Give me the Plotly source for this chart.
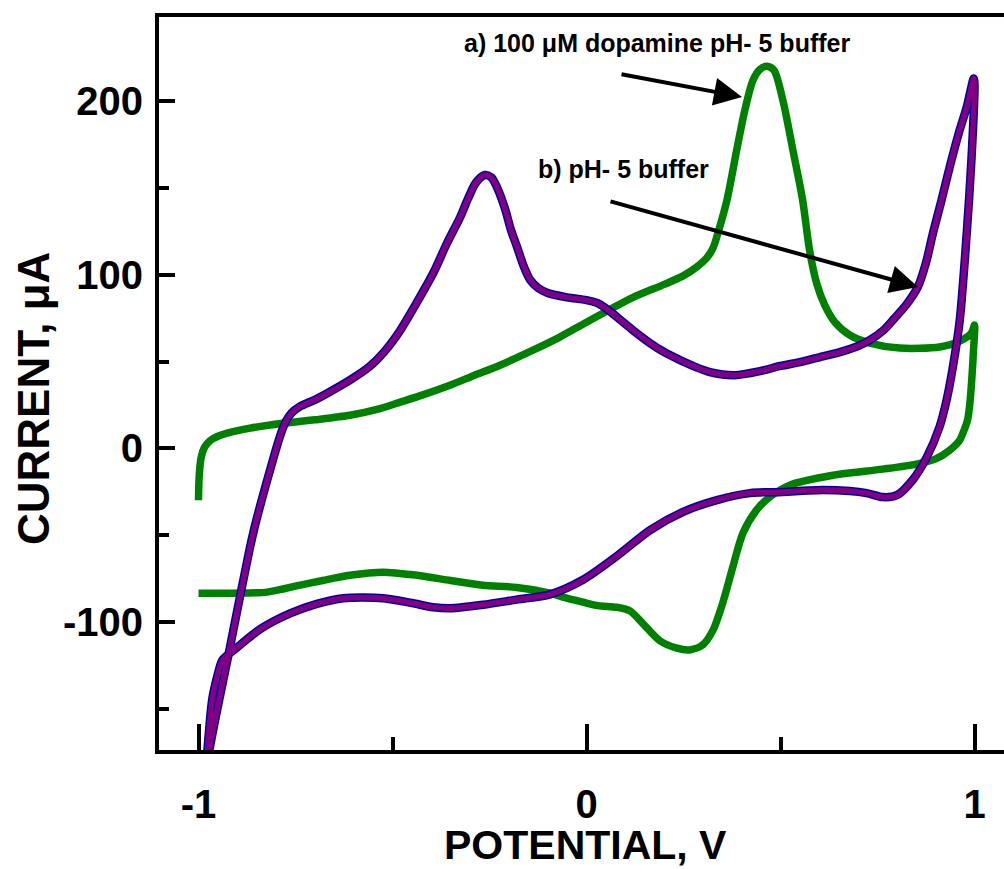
import plotly.graph_objects as go

# ---- data (potential V, current uA) ----
dopamine_potential = [
    -1.0, -0.998, -0.993, -0.985, -0.97, -0.95, -0.926, -0.867, -0.782, -0.7, -0.61, -0.54,
    -0.48, -0.42, -0.352, -0.29, -0.223, -0.138, -0.07, 0.0, 0.06, 0.12, 0.202, 0.25,
    0.284, 0.31, 0.326, 0.341, 0.362, 0.387, 0.408, 0.429, 0.447, 0.465, 0.483, 0.506,
    0.532, 0.557, 0.575, 0.593, 0.614, 0.64, 0.678, 0.73, 0.807, 0.91, 0.962, 0.992, 1.0,
    0.997, 0.993, 0.988, 0.982, 0.97, 0.962, 0.936, 0.9, 0.851, 0.764, 0.635, 0.524, 0.472,
    0.438, 0.403, 0.377, 0.351, 0.326, 0.3, 0.266, 0.233, 0.189, 0.146, 0.112, 0.078,
    0.03, -0.009, -0.061, -0.094, -0.18, -0.267, -0.35, -0.437, -0.524, -0.61,
    -0.68, -0.738, -0.823, -0.91, -1.0,
]
dopamine_current = [
    -29.8, -15.0, -5.0, 0.5, 4.5, 7.0, 8.8, 11.7, 14.5, 16.5, 19.1, 22.5,
    26.7, 31.0, 36.4, 42.0, 47.9, 56.6, 64.0, 72.7, 80.0, 87.0, 94.6, 99.5,
    104.5, 109.7, 115.4, 125.8, 143.0, 171.7, 194.7, 212.0, 218.3, 220.0, 217.8, 200.5,
    171.7, 143.0, 114.0, 95.2, 82.5, 72.7, 65.3, 60.7, 57.8, 58.4, 61.8, 66.4, 71.0,
    55.0, 40.0, 26.0, 16.3, 8.8, 4.8, -1.0, -6.0, -9.0, -11.9, -15.4, -21.1, -28.0,
    -35.5, -48.8, -68.3, -89.0, -104.6, -113.0, -116.0, -115.0, -110.7, -101.0, -93.5, -91.4,
    -90.5, -88.5, -85.6, -83.3, -80.0, -78.7, -76.0, -73.0, -71.2, -73.0,
    -76.0, -78.7, -82.7, -83.3, -83.3,
]

buffer_potential = [
    -0.985, -0.972, -0.923, -0.869, -0.851, -0.79, -0.775, -0.76, -0.74, -0.7, -0.668,
    -0.61, -0.56, -0.52, -0.48, -0.44, -0.395, -0.36, -0.326, -0.305, -0.285, -0.262,
    -0.245, -0.228, -0.21, -0.195, -0.179, -0.162, -0.145, -0.125, -0.1, -0.05, 0.0, 0.03,
    0.06, 0.09, 0.12, 0.164, 0.2, 0.24, 0.28, 0.318, 0.382, 0.447, 0.5, 0.55, 0.6, 0.653,
    0.7, 0.73, 0.765, 0.794, 0.825, 0.854, 0.875, 0.893, 0.915, 0.936, 0.96, 0.98, 0.998,
    1.0, 0.992, 0.98, 0.962, 0.945, 0.928, 0.91, 0.877, 0.841, 0.8, 0.764, 0.722, 0.678,
    0.593, 0.506, 0.421, 0.336, 0.249, 0.164, 0.078, -0.009, -0.094, -0.18, -0.267,
    -0.352, -0.395, -0.45, -0.524, -0.627, -0.695, -0.764, -0.841, -0.892, -0.92, -0.939,
    -0.952, -0.965, -0.985,
]
buffer_current = [
    -200.0, -174.0, -119.0, -58.7, -41.4, 7.0, 15.5, 20.5, 24.0, 28.0, 31.8,
    39.3, 47.0, 56.0, 68.0, 83.0, 101.0, 118.0, 133.0, 144.0, 153.0, 157.4,
    156.0, 149.0, 138.0, 126.0, 116.0, 105.0, 97.0, 92.5, 89.5, 87.0, 85.4, 83.5,
    79.0, 73.5, 68.0, 60.6, 55.5, 51.0, 47.0, 44.0, 42.2, 44.5, 47.5, 49.7, 52.5, 55.5,
    59.0, 62.4, 68.0, 75.0, 83.0, 93.0, 107.0, 124.0, 143.0, 162.0, 182.0, 196.5, 213.0,
    209.0, 166.0, 124.0, 74.0, 48.0, 27.8, 12.5, -5.0, -18.0, -26.9, -28.0, -25.7, -24.5,
    -24.0, -25.0, -25.7, -29.7, -36.5, -47.0, -62.0, -75.6, -84.0, -87.0, -90.0,
    -92.0, -91.4, -89.0, -86.2, -86.2, -89.5, -95.0, -104.0, -113.0, -118.0, -122.0,
    -131.5, -145.0, -200.0,
]

x_tick_vals = [-1, 0, 1]
x_tick_text = ["-1", "0", "1"]
y_tick_vals = [-100, 0, 100, 200]
y_tick_text = ["-100", "0", "100", "200"]

label_a = "a) 100 μM dopamine pH- 5 buffer"
label_b = "b) pH- 5 buffer"
x_title = "POTENTIAL, V"
y_title = "CURRENT, μA"

# ---- layout geometry ----
W, H = 1004, 869
ML, MR, MT, MB = 159, 0, 17, 119
PW, PH = W - ML - MR, H - MT - MB


def px(xp):
    return (xp - ML) / PW


def py(yp):
    return (H - MB - yp) / PH


FONT = "Liberation Sans, Arial, sans-serif"
SMOOTH = 0.8

fig = go.Figure()
fig.add_trace(go.Scatter(x=dopamine_potential, y=dopamine_current, mode="lines",
                         line=dict(color="#008000", width=7.5, shape="spline", smoothing=SMOOTH),
                         hoverinfo="skip", showlegend=False))
fig.add_trace(go.Scatter(x=buffer_potential, y=buffer_current, mode="lines",
                         line=dict(color="#0000A8", width=8.5, shape="spline", smoothing=SMOOTH),
                         hoverinfo="skip", showlegend=False))
fig.add_trace(go.Scatter(x=buffer_potential, y=buffer_current, mode="lines",
                         line=dict(color="#800080", width=5.5, shape="spline", smoothing=SMOOTH),
                         hoverinfo="skip", showlegend=False))

axis_common = dict(showgrid=False, zeroline=False, showline=True, linecolor="black",
                   linewidth=4, ticks="inside", tickcolor="black",
                   tickfont=dict(family=FONT, size=40, color="black", weight="bold"))

fig.update_xaxes(range=[-1.1018, 1.076], tickvals=x_tick_vals, ticktext=x_tick_text,
                 ticklen=26, tickwidth=3.5, mirror=True, ticklabelstandoff=16,
                 minor=dict(ticks="inside", dtick=0.5, tick0=0, ticklen=13, tickwidth=3.5,
                            tickcolor="black"),
                 **axis_common)
fig.update_yaxes(range=[-173.6, 248.4], tickvals=y_tick_vals, ticktext=y_tick_text,
                 ticklen=16, tickwidth=4, mirror=False, ticklabelstandoff=4,
                 minor=dict(ticks="inside", dtick=50, tick0=0, ticklen=10, tickwidth=4,
                            tickcolor="black"),
                 **axis_common)

ann_font = dict(family=FONT, size=25, color="black", weight="bold")
annotations = [
    dict(text=label_a, x=px(657), y=py(43), xref="paper", yref="paper",
         showarrow=False, font=ann_font, xanchor="center", yanchor="middle"),
    dict(text=label_b, x=px(623), y=py(169), xref="paper", yref="paper",
         showarrow=False, font=ann_font, xanchor="center", yanchor="middle"),
    dict(text="", x=px(742), y=py(97), xref="paper", yref="paper",
         ax=620 - 742, ay=74 - 97, showarrow=True, arrowhead=2, arrowsize=1.4,
         arrowwidth=4, arrowcolor="black", standoff=0, startstandoff=0),
    dict(text="", x=px(918), y=py(287), xref="paper", yref="paper",
         ax=609 - 918, ay=201 - 287, showarrow=True, arrowhead=2, arrowsize=1.4,
         arrowwidth=4, arrowcolor="black", standoff=0, startstandoff=0),
    dict(text=x_title, x=px(585), y=py(845), xref="paper", yref="paper",
         showarrow=False, font=dict(family=FONT, size=41, color="black", weight="bold"),
         xanchor="center", yanchor="middle"),
    dict(text=y_title, x=px(33), y=py(399), xref="paper", yref="paper",
         showarrow=False, textangle=-90,
         font=dict(family=FONT, size=44, color="black", weight="bold"),
         xanchor="center", yanchor="middle"),
]

fig.update_layout(width=W, height=H, margin=dict(l=ML, r=MR, t=MT, b=MB, pad=0),
                  plot_bgcolor="white", paper_bgcolor="white",
                  annotations=annotations, showlegend=False)

fig.write_html("out.html")
